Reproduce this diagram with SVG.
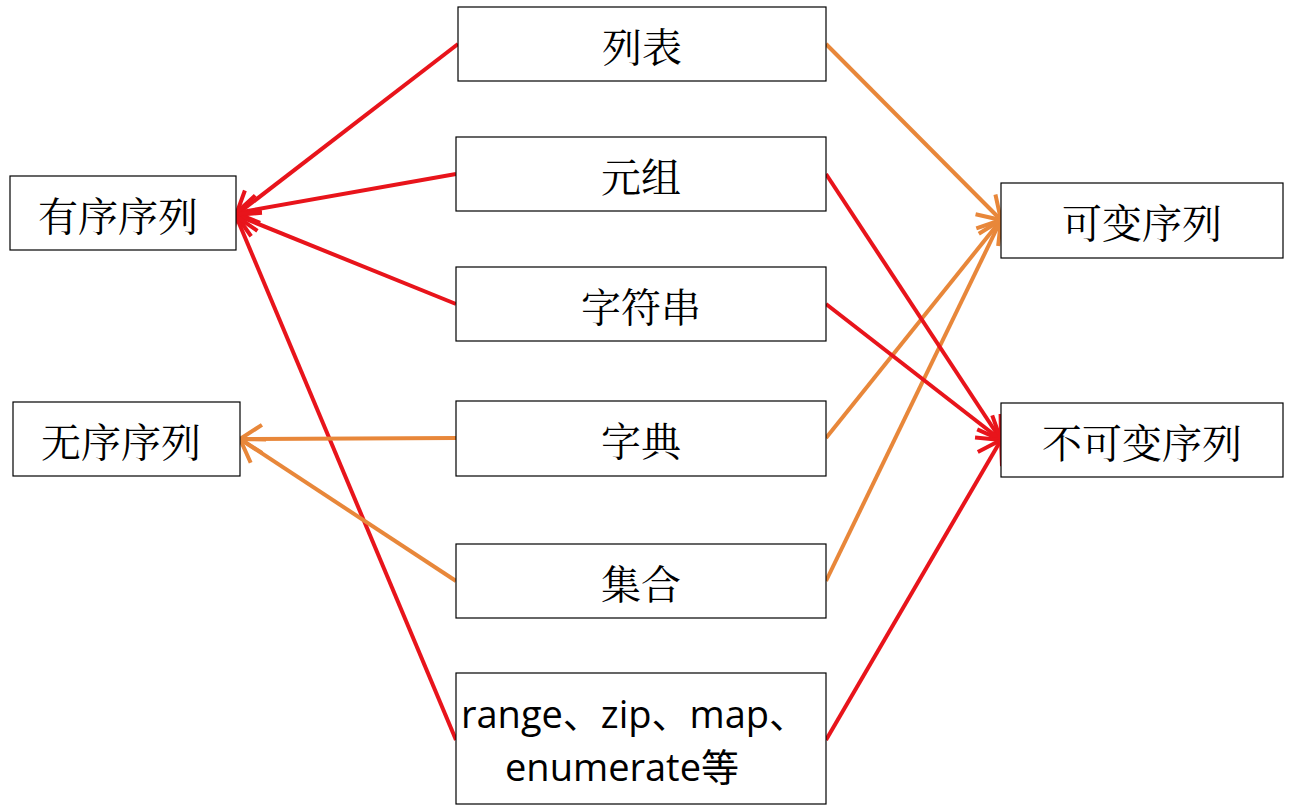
<svg xmlns="http://www.w3.org/2000/svg" width="1290" height="810" viewBox="0 0 1290 810">
<style>
rect{fill:#fff;stroke:#000;stroke-width:1.2}
text{font-family:"Noto Serif CJK SC","Noto Sans CJK SC",serif;font-size:40px;text-anchor:middle;dominant-baseline:central;fill:#000}
.en{font-family:"Open Sans","Noto Sans CJK SC",sans-serif;font-size:38px}
.r{stroke:#e8141b;stroke-width:4;fill:none}
.o{stroke:#e8873a;stroke-width:4;fill:none}
</style>
<defs>
<marker id="mr" markerUnits="userSpaceOnUse" markerWidth="40" markerHeight="40" refX="30" refY="20" orient="auto"><path d="M8,6 L30,20 L8,34" fill="none" stroke="#e8141b" stroke-width="4"/></marker>
<marker id="mo" markerUnits="userSpaceOnUse" markerWidth="40" markerHeight="40" refX="30" refY="20" orient="auto"><path d="M8,6 L30,20 L8,34" fill="none" stroke="#e8873a" stroke-width="4"/></marker>
</defs>
<g id="connectors">
<line class="r" x1="458" y1="44" x2="236" y2="215" marker-end="url(#mr)"/>
<line class="r" x1="456" y1="174" x2="236" y2="213" marker-end="url(#mr)"/>
<line class="r" x1="456" y1="304" x2="236" y2="215" marker-end="url(#mr)"/>
<line class="r" x1="456" y1="740" x2="236" y2="216" marker-end="url(#mr)"/>
<line class="o" x1="456" y1="438" x2="240" y2="439" marker-end="url(#mo)"/>
<line class="o" x1="456" y1="581" x2="240" y2="439" marker-end="url(#mo)"/>
<line class="o" x1="826" y1="44" x2="1001" y2="220" marker-end="url(#mo)"/>
<line class="o" x1="826" y1="438" x2="1001" y2="220" marker-end="url(#mo)"/>
<line class="o" x1="826" y1="581" x2="1001" y2="220" marker-end="url(#mo)"/>
<line class="r" x1="826" y1="174" x2="1001" y2="440" marker-end="url(#mr)"/>
<line class="r" x1="826" y1="304" x2="1001" y2="440" marker-end="url(#mr)"/>
<line class="r" x1="826" y1="740" x2="1001" y2="440" marker-end="url(#mr)"/>
</g>
<g id="n1"><rect x="458" y="7" width="368" height="74"/><text x="642" y="44">列表</text></g>
<g id="n2"><rect x="456" y="137" width="370" height="74"/><text x="641" y="174">元组</text></g>
<g id="n3"><rect x="456" y="267" width="370" height="74"/><text x="641" y="304">字符串</text></g>
<g id="n4"><rect x="456" y="401" width="370" height="75"/><text x="641" y="438">字典</text></g>
<g id="n5"><rect x="456" y="544" width="370" height="74"/><text x="641" y="581">集合</text></g>
<g id="n6"><rect x="456" y="673" width="370" height="131"/><text class="en" x="634" y="713">range、zip、map、</text><text class="en" x="622" y="766">enumerate等</text></g>
<g id="n7"><rect x="10" y="176" width="226" height="74"/><text x="118" y="213">有序序列</text></g>
<g id="n8"><rect x="13" y="402" width="227" height="74"/><text x="121" y="439">无序序列</text></g>
<g id="n9"><rect x="1001" y="183" width="282" height="75"/><text x="1142" y="220">可变序列</text></g>
<g id="n10"><rect x="1001" y="403" width="282" height="74"/><text x="1142" y="440">不可变序列</text></g>
</svg>
